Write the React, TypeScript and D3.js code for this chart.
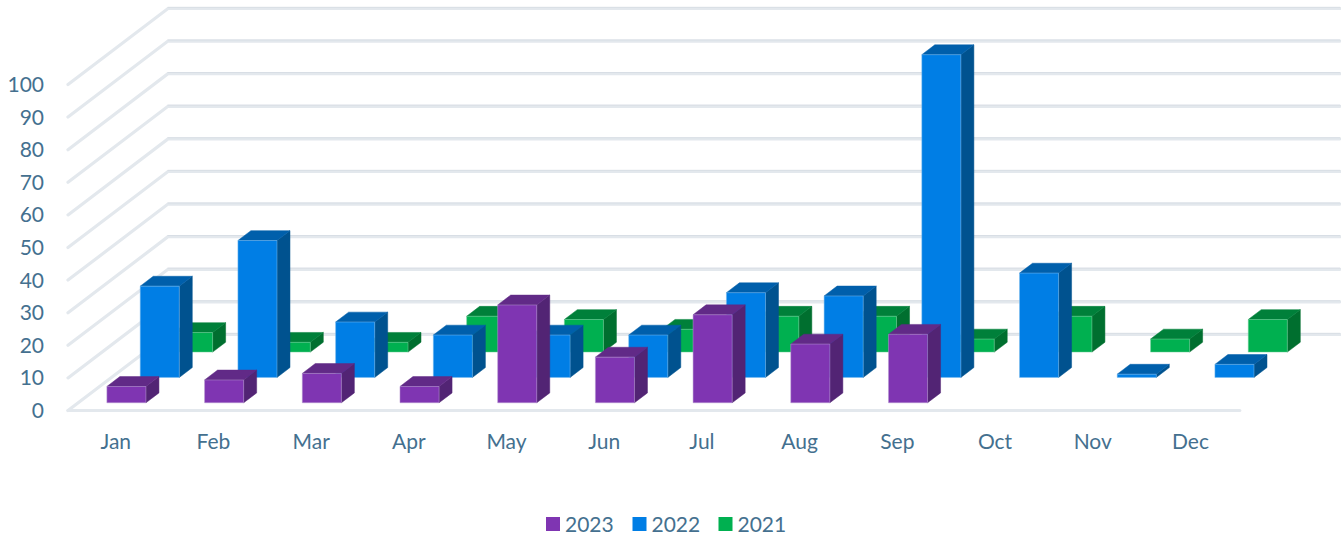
import React from "react";
import * as d3 from "d3";

const months = ["Jan", "Feb", "Mar", "Apr", "May", "Jun", "Jul", "Aug", "Sep", "Oct", "Nov", "Dec"];
const years = ["2023", "2022", "2021"];
const values2023: (number | null)[] = [5, 7, 9, 5, 30, 14, 27, 18, 21, null, null, null];
const values2022: (number | null)[] = [28, 42, 17, 13, 13, 13, 26, 25, 99, 32, 1, 4];
const values2021: (number | null)[] = [6, 3, 3, 11, 10, 7, 11, 11, 4, 11, 4, 10];
const seriesValues = [values2023, values2022, values2021];

const fronts = ["#7F35B2", "#007EE5", "#00B050"];
const tops = ["#612A87", "#005FAB", "#00803A"];
const sides = ["#522474", "#00528F", "#006F2F"];
const edges = ["#B79AD0", "#7DBDEE", "#7CD3A3"];

const FONT = "Lato, 'Open Sans', sans-serif";
const TEXT = "#44708F";
const GRID = "#E3E8ED";

const W = 1341;
const H = 538;
const DEPTH_X = 100;
const DEPTH_Y = 76;

const x = d3.scaleBand<string>().domain(months).range([67.4, 1239.8]).paddingInner(0.6).paddingOuter(0.3);
const y = d3.scaleLinear().domain([0, 100]).range([410.5, 84.5]);
const depth = d3.scaleBand<string>().domain(years).range([0, 1]).paddingInner(0.61).paddingOuter(0.305);
const ticks = y.ticks(10);

function pts(list: [number, number][]) {
  return list.map((p) => p.join(",")).join(" ");
}

function Bar({ month, row, value }: { month: string; row: number; value: number }) {
  const d0 = depth(years[row])!;
  const d1 = d0 + depth.bandwidth();
  const x0 = x(month)!;
  const x1 = x0 + x.bandwidth();
  const P = (px: number, v: number, d: number): [number, number] => [px + d * DEPTH_X, y(v) - d * DEPTH_Y];
  const edge = { strokeLinejoin: "round" as const };
  return (
    <g>
      <polygon points={pts([P(x1, 0, d0), P(x1, 0, d1), P(x1, value, d1), P(x1, value, d0)])} fill={sides[row]} stroke={sides[row]} strokeWidth={0.5} {...edge} />
      <polygon points={pts([P(x0, value, d0), P(x1, value, d0), P(x1, value, d1), P(x0, value, d1)])} fill={tops[row]} stroke={tops[row]} strokeWidth={0.5} {...edge} />
      <polygon points={pts([P(x0, 0, d0), P(x1, 0, d0), P(x1, value, d0), P(x0, value, d0)])} fill={fronts[row]} stroke={edges[row]} strokeWidth={0.5} {...edge} />
    </g>
  );
}

export default function App() {
  const xStart = x.range()[0] + 0.6;
  const xEnd = x.range()[1];
  const legendX = [546, 632.5, 718.5];
  return (
    <svg width={W} height={H} viewBox={`0 0 ${W} ${H}`} style={{ position: "absolute", left: 0, top: 0 }}>
      <rect width={W} height={H} fill="#FFFFFF" />
      {ticks.map((t) => (
        <g key={t} fill="none" stroke={GRID} strokeWidth={3.2} strokeLinecap="round">
          <polyline points={pts([[xStart, y(t)], [xStart + DEPTH_X, y(t) - DEPTH_Y], [xEnd + DEPTH_X, y(t) - DEPTH_Y]])} />
          <line x1={xStart + DEPTH_X} x2={xEnd + DEPTH_X} y1={y(t) - DEPTH_Y - 1.2} y2={y(t) - DEPTH_Y - 1.2} stroke="#D3DAE1" strokeWidth={0.7} />
        </g>
      ))}
      <line x1={xStart} x2={xEnd} y1={y(0)} y2={y(0)} stroke={GRID} strokeWidth={3.2} strokeLinecap="round" />
      {[2, 1, 0].map((row) => (
        <g key={row}>
          {months.map((m, i) => {
            const v = seriesValues[row][i];
            return v == null ? null : <Bar key={m} month={m} row={row} value={v} />;
          })}
        </g>
      ))}
      <g fontFamily={FONT} fontSize={21} fill={TEXT}>
        {ticks.map((t) => (
          <text key={t} x={44} y={y(t)} dy="0.36em" textAnchor="end">{t}</text>
        ))}
        {months.map((m) => (
          <text key={m} x={x(m)! + x.bandwidth() / 2 - 0.5} y={449} textAnchor="middle">{m}</text>
        ))}
        {years.map((yr, i) => (
          <g key={yr}>
            <rect x={legendX[i]} y={517} width={14} height={14} fill={fronts[i]} />
            <text x={legendX[i] + 19} y={531.5}>{yr}</text>
          </g>
        ))}
      </g>
    </svg>
  );
}
